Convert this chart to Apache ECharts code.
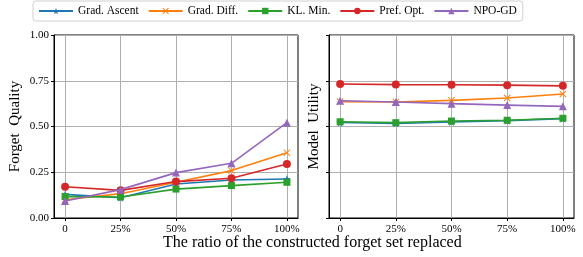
<!DOCTYPE html>
<html>
<head>
<meta charset="utf-8">
<script src="https://cdn.jsdelivr.net/npm/echarts@6/dist/echarts.min.js"></script>
<style>
  html, body { margin: 0; padding: 0; background: #fff; }
  #chart { width: 583px; height: 257px; }
</style>
</head>
<body>
<div id="chart"></div>
<script>
// ratio of the constructed forget set replaced
const ratios = [0, 25, 50, 75, 100];
const xTickLabels = ['0', '25%', '50%', '75%', '100%'];
const yTicks = [0, 0.25, 0.5, 0.75, 1.0];

const methods = ['Grad. Ascent', 'Grad. Diff.', 'KL. Min.', 'Pref. Opt.', 'NPO-GD'];

// forget quality (left panel)
const fqGradAscent = [0.129, 0.111, 0.186, 0.208, 0.213];
const fqGradDiff = [0.100, 0.133, 0.195, 0.259, 0.357];
const fqKLMin = [0.117, 0.115, 0.158, 0.177, 0.195];
const fqPrefOpt = [0.171, 0.151, 0.199, 0.217, 0.295];
const fqNPOGD = [0.093, 0.155, 0.248, 0.299, 0.521];

// model utility (right panel)
const muGradAscent = [0.522, 0.517, 0.525, 0.532, 0.543];
const muGradDiff = [0.636, 0.634, 0.643, 0.656, 0.678];
const muKLMin = [0.526, 0.521, 0.530, 0.534, 0.545];
const muPrefOpt = [0.732, 0.729, 0.728, 0.726, 0.722];
const muNPOGD = [0.641, 0.634, 0.625, 0.617, 0.610];

const colors = ['#1f77b4', '#ff7f0e', '#2ca02c', '#d62728', '#9467bd'];
const starPath = 'path://M0,-10 L2.35,-3.24 L9.51,-3.09 L3.8,1.24 L5.88,8.09 L0,4 L-5.88,8.09 L-3.8,1.24 L-9.51,-3.09 L-2.35,-3.24 Z';
const xPath = 'path://M1,0 L5,4 L9,0 L10,1 L6,5 L10,9 L9,10 L5,6 L1,10 L0,9 L4,5 L0,1 Z';
const symbols = [starPath, xPath, 'rect', 'circle', 'triangle'];
const symbolSizes = [8, 7, 7, 8, 8];

const serif = '"Liberation Serif", "DejaVu Serif", serif';

function pairs(vals) {
  return ratios.map((r, i) => [r, vals[i]]);
}

function xAxis(gridIndex) {
  return {
    type: 'value',
    gridIndex: gridIndex,
    min: -5,
    max: 105,
    axisLine: { show: true, onZero: false, lineStyle: { color: '#000', width: 1 } },
    axisTick: { show: true, length: 3, customValues: ratios, lineStyle: { color: '#000' } },
    axisLabel: {
      customValues: ratios,
      formatter: (v) => xTickLabels[ratios.indexOf(v)],
      color: '#000', fontSize: 11, fontFamily: serif, margin: 6,
    },
    splitLine: { show: true, lineStyle: { color: '#b0b0b0', width: 1 } },
  };
}

function yAxis(gridIndex, name, showLabels, nameGap) {
  return {
    type: 'value',
    gridIndex: gridIndex,
    min: 0,
    max: 1,
    interval: 0.25,
    name: name,
    nameLocation: 'middle',
    nameGap: nameGap,
    nameTextStyle: { color: '#000', fontSize: 15, fontFamily: serif },
    axisLine: { show: true, onZero: false, lineStyle: { color: '#000', width: 1 } },
    axisTick: { show: true, length: 3, lineStyle: { color: '#000' } },
    axisLabel: {
      show: showLabels,
      formatter: (v) => v.toFixed(2),
      color: '#000', fontSize: 11, fontFamily: serif, margin: 5,
    },
    splitLine: { show: true, lineStyle: { color: '#b0b0b0', width: 1 } },
  };
}

const fqData = [fqGradAscent, fqGradDiff, fqKLMin, fqPrefOpt, fqNPOGD];
const muData = [muGradAscent, muGradDiff, muKLMin, muPrefOpt, muNPOGD];

const series = [];
[fqData, muData].forEach((panel, p) => {
  panel.forEach((vals, i) => {
    series.push({
      name: methods[i],
      type: 'line',
      xAxisIndex: p,
      yAxisIndex: p,
      data: pairs(vals),
      symbol: symbols[i],
      symbolSize: symbolSizes[i],
      showAllSymbol: true,
      lineStyle: { color: colors[i], width: 1.6 },
      itemStyle: { color: colors[i] },
      emphasis: { disabled: true },
      z: 2 + i,
    });
  });
});

const chart = echarts.init(document.getElementById('chart'), null, { renderer: 'canvas' });
chart.setOption({
  animation: false,
  color: colors,
  title: {
    text: 'The ratio of the constructed forget set replaced',
    left: 163,
    top: 235,
    padding: 0,
    textStyle: { color: '#000', fontSize: 16, fontWeight: 'normal', fontFamily: serif },
  },
  legend: {
    data: methods,
    left: 33,
    top: 1,
    padding: [4, 6, 4, 5],
    itemWidth: 34,
    itemHeight: 8,
    itemGap: 9,
    borderColor: '#d0d0d0',
    borderWidth: 1,
    borderRadius: 3,
    textStyle: { color: '#000', fontSize: 11.5, fontFamily: serif },
  },
  grid: [
    { left: 54, right: 285, top: 35, bottom: 39, show: true, borderColor: '#000', borderWidth: 1 },
    { left: 329, right: 9, top: 35, bottom: 39, show: true, borderColor: '#000', borderWidth: 1 },
  ],
  xAxis: [xAxis(0), xAxis(1)],
  yAxis: [yAxis(0, 'Forget  Quality', true, 31), yAxis(1, 'Model  Utility', false, 7)],
  series: series,
});
</script>
</body>
</html>
